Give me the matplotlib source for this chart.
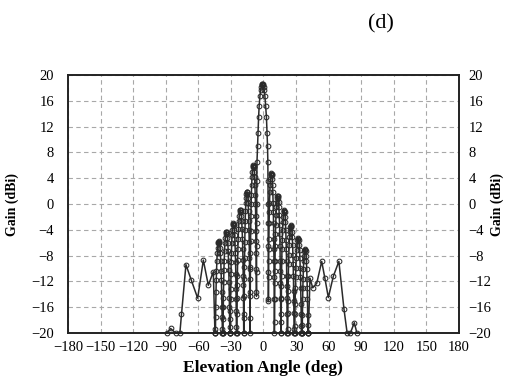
import matplotlib
matplotlib.use('Agg')
import matplotlib.pyplot as plt
import numpy as np

plt.rcParams['font.family'] = ['Liberation Serif', 'DejaVu Serif']

x_ticks = [-180, -150, -120, -90, -60, -30, 0, 30, 60, 90, 120, 150, 180]
y_ticks = [-20, -16, -12, -8, -4, 0, 4, 8, 12, 16, 20]

# --- pattern data (angle in deg, gain in dBi) ---
angle_left_outer = [-89, -85.5, -81, -77, -75.5, -71.4, -66.5, -60.6, -55.4, -50.8, -46.2]
gain_left_outer = [-20, -19.3, -20, -20, -17.1, -9.4, -11.8, -14.6, -8.7, -12.6, -10.5]

angle_l6 = [-44.7, -44.47, -44.35, -44.22, -44.11, -43.99, -43.76, -43.51, -43.28, -42.93, -42.57, -42.22, -41.74, -41.5,
            -41.15, -40.8, -40.56, -40.09, -39.73, -39.38, -39.02, -38.79, -38.54, -38.31, -38.19, -38.08, -37.95, -37.83]
gain_l6 = [-20, -20, -20, -19.4, -17.5, -16.0, -13.6, -11.8, -10.4, -8.8, -7.6, -6.8, -6.1, -5.9,
           -5.8, -5.9, -6.1, -6.8, -7.6, -8.8, -10.4, -11.8, -13.6, -16.0, -17.5, -19.4, -20, -20]

angle_l5 = [-37.6, -37.38, -37.26, -37.14, -37.04, -36.92, -36.7, -36.46, -36.24, -35.9, -35.56, -35.22, -34.76, -34.54,
            -34.2, -33.86, -33.64, -33.18, -32.84, -32.5, -32.16, -31.94, -31.7, -31.48, -31.36, -31.26, -31.14, -31.02]
gain_l5 = [-20, -20, -20, -17.9, -16.0, -14.5, -12.1, -10.3, -8.9, -7.3, -6.1, -5.3, -4.6, -4.4,
           -4.3, -4.4, -4.6, -5.3, -6.1, -7.3, -8.9, -10.3, -12.1, -14.5, -16.0, -17.9, -20, -20]

angle_l4 = [-30.8, -30.6, -30.5, -30.39, -30.29, -30.19, -29.99, -29.78, -29.58, -29.28, -28.97, -28.67, -28.26, -28.06,
            -27.75, -27.45, -27.24, -26.84, -26.53, -26.23, -25.92, -25.72, -25.51, -25.31, -25.21, -25.11, -25.0, -24.9]
gain_l4 = [-20, -20, -19.1, -16.6, -14.7, -13.2, -10.8, -9.0, -7.6, -6.0, -4.8, -4.0, -3.3, -3.1,
           -3.0, -3.1, -3.3, -4.0, -4.8, -6.0, -7.6, -9.0, -10.8, -13.2, -14.7, -16.6, -19.1, -20]

angle_l3 = [-24.7, -24.48, -24.37, -24.25, -24.14, -24.03, -23.81, -23.58, -23.36, -23.03, -22.69, -22.36, -21.91, -21.69,
            -21.35, -21.02, -20.79, -20.35, -20.01, -19.68, -19.34, -19.12, -18.89, -18.67, -18.56, -18.45, -18.34, -18.22]
gain_l3 = [-20, -20, -17.0, -14.5, -12.6, -11.1, -8.7, -6.9, -5.5, -3.9, -2.7, -1.9, -1.2, -1.0,
           -0.9, -1.0, -1.2, -1.9, -2.7, -3.9, -5.5, -6.9, -8.7, -11.1, -12.6, -14.5, -17.0, -20]

angle_l2 = [-18.0, -17.82, -17.72, -17.63, -17.54, -17.44, -17.26, -17.07, -16.88, -16.6, -16.32, -16.04, -15.67, -15.48,
            -15.2, -14.92, -14.74, -14.36, -14.08, -13.8, -13.52, -13.34, -13.15, -12.96, -12.87, -12.78, -12.68, -12.59]
gain_l2 = [-20, -17.7, -14.2, -11.7, -9.8, -8.3, -5.9, -4.1, -2.7, -1.1, 0.1, 0.9, 1.6, 1.8,
           1.9, 1.8, 1.6, 0.9, 0.1, -1.1, -2.7, -4.1, -5.9, -8.3, -9.8, -11.7, -14.2, -17.7]

angle_l1 = [-12.4, -12.2, -12.1, -12.0, -11.9, -11.8, -11.6, -11.4, -11.2, -10.9, -10.6, -10.3, -9.9, -9.7,
            -9.4, -9.1, -8.9, -8.5, -8.2, -7.9, -7.6, -7.4, -7.2, -7.0, -6.9, -6.8, -6.7, -6.6]
gain_l1 = [-20, -13.6, -10.1, -7.6, -5.7, -4.2, -1.8, 0.0, 1.4, 3.0, 4.2, 5.0, 5.7, 5.9,
           6.0, 5.9, 5.7, 5.0, 4.2, 3.0, 1.4, 0.0, -1.8, -4.2, -5.7, -7.6, -10.1, -13.6]

angle_main = [-6.45, -6.4, -6.35, -6.3, -6.25, -6.15, -6.0, -5.5, -5.1, -4.5, -4.0, -3.3, -2.6, -2.2, -1.8, -1.4, -1.0,
              -0.6, -0.2, 0.2, 0.6, 1.3, 2.0, 2.7, 3.3, 3.7, 4.0, 4.15, 4.25, 4.3, 4.35, 4.4, 4.45]
gain_main = [-14.3, -10.5, -6.5, -3.0, 0.0, 3.5, 6.5, 9.0, 11.0, 13.5, 15.2, 16.7, 17.7, 18.1, 18.4, 18.55, 18.6,
             18.55, 18.4, 18.1, 17.7, 16.7, 15.2, 13.5, 11.0, 9.0, 6.5, 3.5, 0.0, -3.0, -6.5, -10.5, -15.1]

angle_r1 = [4.59, 4.68, 4.78, 4.87, 4.96, 5.15, 5.34, 5.52, 5.8, 6.08, 6.36, 6.74, 6.92, 7.2,
            7.48, 7.67, 8.04, 8.32, 8.6, 8.88, 9.07, 9.26, 9.44, 9.54, 9.63, 9.72, 9.82]
gain_r1 = [-14.8, -11.3, -8.8, -6.9, -5.4, -3.0, -1.2, 0.2, 1.8, 3.0, 3.8, 4.5, 4.7, 4.8,
           4.7, 4.5, 3.8, 3.0, 1.8, 0.2, -1.2, -3.0, -5.4, -6.9, -8.8, -11.3, -14.8]

angle_r2 = [10.0, 10.2, 10.3, 10.4, 10.5, 10.6, 10.8, 11.0, 11.2, 11.5, 11.8, 12.1, 12.5, 12.7,
            13.0, 13.3, 13.5, 13.9, 14.2, 14.5, 14.8, 15.0, 15.2, 15.4, 15.5, 15.6, 15.7, 15.8]
gain_r2 = [-20, -18.3, -14.8, -12.3, -10.4, -8.9, -6.5, -4.7, -3.3, -1.7, -0.5, 0.3, 1.0, 1.2,
           1.3, 1.2, 1.0, 0.3, -0.5, -1.7, -3.3, -4.7, -6.5, -8.9, -10.4, -12.3, -14.8, -18.3]

angle_r3 = [16.0, 16.2, 16.3, 16.4, 16.5, 16.6, 16.8, 17.0, 17.2, 17.5, 17.8, 18.1, 18.5, 18.7,
            19.0, 19.3, 19.5, 19.9, 20.2, 20.5, 20.8, 21.0, 21.2, 21.4, 21.5, 21.6, 21.7, 21.8]
gain_r3 = [-20, -20, -17.1, -14.6, -12.7, -11.2, -8.8, -7.0, -5.6, -4.0, -2.8, -2.0, -1.3, -1.1,
           -1.0, -1.1, -1.3, -2.0, -2.8, -4.0, -5.6, -7.0, -8.8, -11.2, -12.7, -14.6, -17.1, -20]

angle_r4 = [22.0, 22.21, 22.32, 22.43, 22.53, 22.64, 22.85, 23.07, 23.28, 23.6, 23.92, 24.24, 24.67, 24.88,
            25.2, 25.52, 25.73, 26.16, 26.48, 26.8, 27.12, 27.33, 27.55, 27.76, 27.87, 27.97, 28.08, 28.19]
gain_r4 = [-20, -20, -19.4, -16.9, -15.0, -13.5, -11.1, -9.3, -7.9, -6.3, -5.1, -4.3, -3.6, -3.4,
           -3.3, -3.4, -3.6, -4.3, -5.1, -6.3, -7.9, -9.3, -11.1, -13.5, -15.0, -16.9, -19.4, -20]

angle_r5 = [28.4, 28.62, 28.74, 28.86, 28.96, 29.08, 29.3, 29.54, 29.76, 30.1, 30.44, 30.78, 31.24, 31.46,
            31.8, 32.14, 32.36, 32.82, 33.16, 33.5, 33.84, 34.06, 34.3, 34.52, 34.64, 34.74, 34.86, 34.98]
gain_r5 = [-20, -20, -20, -18.9, -17.0, -15.5, -13.1, -11.3, -9.9, -8.3, -7.1, -6.3, -5.6, -5.4,
           -5.3, -5.4, -5.6, -6.3, -7.1, -8.3, -9.9, -11.3, -13.1, -15.5, -17.0, -18.9, -20, -20]

angle_r6 = [35.2, 35.4, 35.51, 35.61, 35.71, 35.81, 36.01, 36.22, 36.42, 36.73, 37.03, 37.34, 37.74, 37.95,
            38.25, 38.56, 38.76, 39.17, 39.47, 39.78, 40.08, 40.28, 40.49, 40.69, 40.79, 40.89, 41.0, 41.1]
gain_r6 = [-20, -20, -20, -20, -18.7, -17.2, -14.8, -13.0, -11.6, -10.0, -8.8, -8.0, -7.3, -7.1,
           -7.0, -7.1, -7.3, -8.0, -8.8, -10.0, -11.6, -13.0, -14.8, -17.2, -18.7, -20, -20, -20]

angle_right_outer = [41.3, 42.8, 45.3, 49.0, 53.6, 56.5, 59.7, 64.3, 69.4, 74.1, 77.0, 80.0, 83.6, 86.0]
gain_right_outer = [-20, -11.5, -13.0, -12.3, -8.9, -11.5, -14.5, -11.2, -8.9, -16.3, -20, -20, -18.4, -20]

angles = np.concatenate([angle_left_outer, angle_l6, angle_l5, angle_l4, angle_l3, angle_l2, angle_l1,
                         angle_main, angle_r1, angle_r2, angle_r3, angle_r4, angle_r5, angle_r6,
                         angle_right_outer])
gains = np.concatenate([gain_left_outer, gain_l6, gain_l5, gain_l4, gain_l3, gain_l2, gain_l1,
                        gain_main, gain_r1, gain_r2, gain_r3, gain_r4, gain_r5, gain_r6,
                        gain_right_outer])

W, H = 510, 381
fig = plt.figure(figsize=(W / 100, H / 100), dpi=100)
fig.patch.set_facecolor('white')
ax = fig.add_axes([68 / W, 1 - 333 / H, (459 - 68) / W, (333 - 75) / H])

ax.plot(angles, gains, color='#2a2a2a', lw=1.1, marker='o', ms=3.4, mfc='none',
        mec='#2a2a2a', mew=0.75, clip_on=False, zorder=3)

ax.set_xlim(-180, 180)
ax.set_ylim(-20, 20)
ax.set_xticks(x_ticks)
ax.set_yticks(y_ticks)
ax.grid(True, ls=(0, (4, 3)), color='#a8a8a8', lw=0.8)
ax.tick_params(length=0, labelsize=10.5)
ax.tick_params(axis='y', pad=10)
ax.tick_params(axis='x', pad=6)
for sp in ax.spines.values():
    sp.set_linewidth(1.2)
    sp.set_color('#222222')

ax2 = ax.twinx()
ax2.set_ylim(-20, 20)
ax2.set_yticks(y_ticks)
ax2.tick_params(length=0, labelsize=10.5, pad=7)
for sp in ax2.spines.values():
    sp.set_linewidth(1.2)
    sp.set_color('#222222')

fig.text(12 / W, 1 - 205 / H, 'Gain (dBi)', rotation=90, ha='center', va='center',
         fontsize=10, fontweight='bold')
fig.text(497 / W, 1 - 205 / H, 'Gain (dBi)', rotation=90, ha='center', va='center',
         fontsize=10, fontweight='bold')
fig.text(263 / W, 1 - 368 / H, 'Elevation Angle (deg)', ha='center', va='center',
         fontsize=12.5, fontweight='bold')
fig.text(381 / W, 1 - 24 / H, '(d)', ha='center', va='center', fontsize=16)

fig.savefig('out.png', dpi=100)
